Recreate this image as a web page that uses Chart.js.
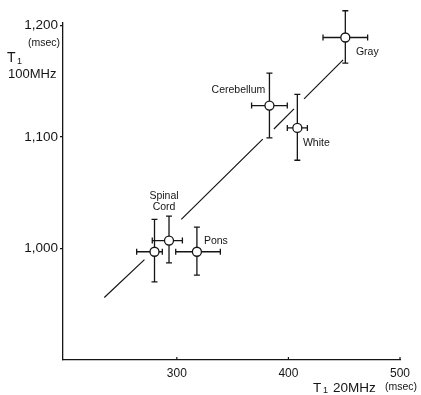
<!DOCTYPE html>
<html>
<head>
<meta charset="utf-8">
<script src="https://cdn.jsdelivr.net/npm/chart.js@4/dist/chart.umd.min.js"></script>
<style>
  html, body { margin: 0; padding: 0; background: #fff; }
  #wrap { width: 421px; height: 395px; }
</style>
</head>
<body>
<div id="wrap"><canvas id="t1chart"></canvas></div>
<script>
// T1 of brain regions, 20MHz vs 100MHz (msec)
const names = ['', 'Spinal Cord', 'Pons', 'Cerebellum', 'White', 'Gray']
const t1At20 = [280, 293, 318, 383, 408, 451]
const t1At100 = [997, 1007, 997, 1128, 1108, 1189]
// error bar lengths (minus / plus side)
const xErrLo = [16, 15, 19, 16, 9, 20]
const xErrHi = [7, 12, 21, 16, 9, 20]
const yErrLo = [27, 20, 21, 29, 29, 23]
const yErrHi = [29, 22, 22, 29, 30, 24]

// fitted line, drawn in pieces (null = break)
const fitX = [235, 271, null, 304, 377, null, 387, 405, null, 414, 449]
const fitY = [956, 990, null, 1026, 1098, null, 1107, 1125, null, 1134, 1169]

const xTicks = [300, 400, 500]
const yTicks = [1000, 1100, 1200]

Chart.defaults.font.family = "'Liberation Sans', Arial, sans-serif"
Chart.defaults.color = '#111'

const ink = '#151515'

const errorBars = {
  id: 'errorBars',
  beforeDatasetsDraw(chart) {
    const {ctx, scales: {x, y}} = chart
    const cap = 3
    ctx.save()
    ctx.strokeStyle = ink
    ctx.lineWidth = 1.3
    t1At20.forEach((v, i) => {
      const px = x.getPixelForValue(v)
      const py = y.getPixelForValue(t1At100[i])
      const x0 = x.getPixelForValue(v - xErrLo[i])
      const x1 = x.getPixelForValue(v + xErrHi[i])
      const y0 = y.getPixelForValue(t1At100[i] - yErrLo[i])
      const y1 = y.getPixelForValue(t1At100[i] + yErrHi[i])
      ctx.beginPath()
      ctx.moveTo(x0, py); ctx.lineTo(x1, py)
      ctx.moveTo(x0, py - cap); ctx.lineTo(x0, py + cap)
      ctx.moveTo(x1, py - cap); ctx.lineTo(x1, py + cap)
      ctx.moveTo(px, y0); ctx.lineTo(px, y1)
      ctx.moveTo(px - cap, y0); ctx.lineTo(px + cap, y0)
      ctx.moveTo(px - cap, y1); ctx.lineTo(px + cap, y1)
      ctx.stroke()
    })
    ctx.restore()
  }
}

// label offsets from each point, in px
const labelOffset = [null, [-5, -44], [19, -11], [-31, -15], [19, 15], [22, 15]]

const annotations = {
  id: 'annotations',
  afterDraw(chart) {
    const {ctx, scales: {x, y}} = chart
    ctx.save()
    ctx.fillStyle = ink
    ctx.strokeStyle = ink
    ctx.textAlign = 'center'
    ctx.textBaseline = 'middle'

    // region names
    ctx.font = "10.5px 'Liberation Sans', Arial, sans-serif"
    names.forEach((n, i) => {
      if (!n) return
      const px = x.getPixelForValue(t1At20[i]) + labelOffset[i][0]
      const py = y.getPixelForValue(t1At100[i]) + labelOffset[i][1]
      n.split(' ').forEach((part, k) => ctx.fillText(part, px, py + k * 10.5))
    })

    // inward ticks on the x axis
    ctx.lineWidth = 1.2
    xTicks.forEach(v => {
      const px = x.getPixelForValue(v)
      ctx.beginPath()
      ctx.moveTo(px, x.top)
      ctx.lineTo(px, x.top - 3)
      ctx.stroke()
    })

    // axis titles
    ctx.textAlign = 'left'
    ctx.font = "13.5px 'Liberation Sans', Arial, sans-serif"
    ctx.fillText('T', 313, 388)
    ctx.font = "9px 'Liberation Sans', Arial, sans-serif"
    ctx.fillText('1', 323, 391)
    ctx.font = "13.5px 'Liberation Sans', Arial, sans-serif"
    ctx.fillText('20MHz', 333, 388)
    ctx.font = "10.5px 'Liberation Sans', Arial, sans-serif"
    ctx.fillText('(msec)', 385, 387)

    ctx.textAlign = 'right'
    ctx.fillText('(msec)', 60, 43)
    ctx.textAlign = 'left'
    ctx.font = "14px 'Liberation Sans', Arial, sans-serif"
    ctx.fillText('T', 7, 58)
    ctx.font = "9px 'Liberation Sans', Arial, sans-serif"
    ctx.fillText('1', 17, 62)
    ctx.font = "13px 'Liberation Sans', Arial, sans-serif"
    ctx.fillText('100MHz', 8, 74)
    ctx.restore()
  }
}

new Chart(document.getElementById('t1chart'), {
  type: 'scatter',
  data: {
    datasets: [
      {
        label: 'T1',
        data: t1At20.map((v, i) => ({x: v, y: t1At100[i]})),
        pointRadius: 4.5,
        pointBackgroundColor: '#fff',
        pointBorderColor: ink,
        pointBorderWidth: 1.3,
        order: 0
      },
      {
        label: 'fit',
        data: fitX.map((v, i) => ({x: v, y: fitY[i]})),
        showLine: true,
        spanGaps: false,
        borderColor: ink,
        borderWidth: 1.2,
        pointRadius: 0,
        order: 1
      }
    ]
  },
  options: {
    responsive: true,
    maintainAspectRatio: false,
    animation: false,
    layout: { padding: { top: 23, right: 21, left: 0, bottom: 0 } },
    plugins: { legend: { display: false }, tooltip: { enabled: false } },
    scales: {
      x: {
        type: 'linear',
        min: 198,
        max: 500,
        afterBuildTicks: s => { s.ticks = xTicks.map(v => ({value: v})) },
        afterFit: s => { s.height = 35 },
        grid: { display: false, drawTicks: false, tickLength: 0 },
        border: { display: true, color: ink, width: 1.3 },
        ticks: { padding: 6, font: { size: 12 }, color: ink, maxRotation: 0 }
      },
      y: {
        type: 'linear',
        min: 900,
        max: 1202,
        afterBuildTicks: s => { s.ticks = yTicks.map(v => ({value: v})) },
        afterFit: s => { s.width = 63 },
        grid: { display: true, drawOnChartArea: false, drawTicks: true, tickLength: 3, color: ink, lineWidth: 1.2 },
        border: { display: true, color: ink, width: 1.3 },
        ticks: { padding: 2, font: { size: 13.5 }, color: ink }
      }
    }
  },
  plugins: [errorBars, annotations]
})
</script>
</body>
</html>
